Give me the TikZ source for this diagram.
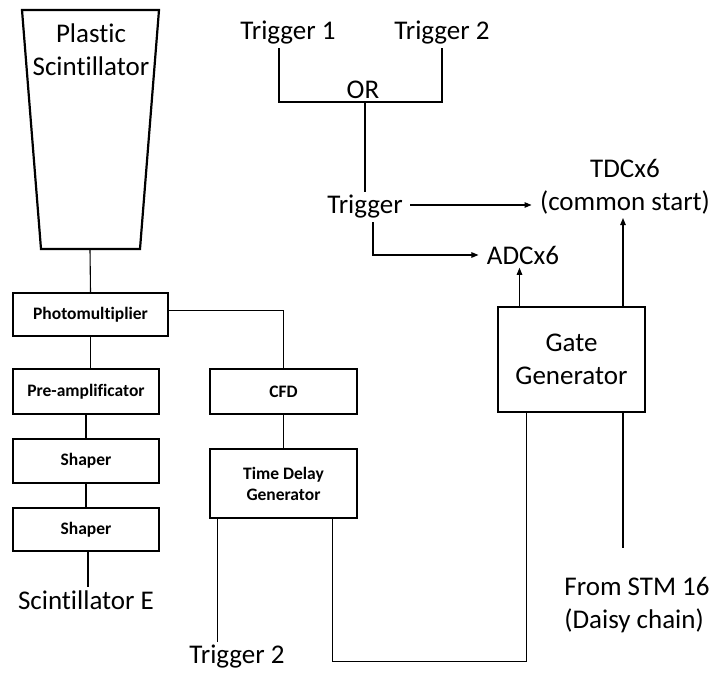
\documentclass[tikz,border=0pt]{standalone}
\usepackage{fontspec}
\setmainfont{Carlito}[Ligatures=NoCommon]
\usetikzlibrary{arrows.meta}
\begin{document}
\begin{tikzpicture}[x=1pt, y=-1pt, line width=1.1pt, >={Triangle[length=7pt,width=5.5pt]},
                    box/.style={draw, line width=2.2pt, fill=white, inner sep=2pt,
                                font=\bfseries\fontsize{17.5}{21}\selectfont, align=center},
                    lbl/.style={inner sep=3pt, font=\fontsize{27}{33}\selectfont, align=center}]
    \useasboundingbox (0,0) rectangle (716,675);
    % scintillator and its chain
    \draw[line width=2.2pt] (22,10) -- (159,10) -- (140,249) -- (41,249) -- cycle;
    \node[lbl] (plastic) at (91,50) {Plastic\\Scintillator};
    \coordinate (scint) at (90,249);
    \node[box, minimum width=155pt, minimum height=43pt] (pm) at (90.5,314.5) {Photomultiplier};
    \node[box, minimum width=146pt, minimum height=45pt] (pre) at (86,391.5) {Pre-amplificator};
    \node[box, minimum width=146pt, minimum height=44pt] (shaperA) at (86,461) {Shaper};
    \node[box, minimum width=146pt, minimum height=43pt] (shaperB) at (86,529.5) {Shaper};
    \node[lbl] (scintE) at (86,600) {Scintillator E};
    \node[box, minimum width=147pt, minimum height=45pt] (cfd) at (283.5,391.5) {CFD};
    \node[box, minimum width=147pt, minimum height=69pt] (tdg) at (283.5,483.5) {Time Delay\\Generator};
    \node[lbl] (trigB) at (237,657) {Trigger 2};
    \draw (scint) -- (pm.north);
    \draw (pm.south) -- (pm.south |- pre.north);
    \draw (pre.south) -- (shaperA.north);
    \draw (shaperA.south) -- (shaperB.north);
    \draw ([xshift=2pt]shaperB.south) -- ([xshift=2pt]shaperB.south |- scintE.north);
    \draw ([yshift=4pt]pm.east) -| (cfd.north);
    \draw (cfd.south) -- (tdg.north);
    \draw ([xshift=9pt]tdg.south west) -- ([xshift=9pt]tdg.south west |- trigB.north);
    % trigger logic
    \node[lbl] (trigA) at (288,33) {Trigger 1};
    \node[lbl] (trigC) at (442,33) {Trigger 2};
    \node[lbl, inner sep=0pt] (or) at (363,90) {OR};
    \coordinate (orj) at (365,102);
    \node[lbl] (trig) at (365,207) {Trigger};
    \node[lbl] (tdc) at (625,187) {TDCx6\\(common start)};
    \node[lbl] (adc) at (523,255) {ADCx6};
    \node[box, font=\fontsize{27}{33}\selectfont, minimum width=147pt, minimum height=105pt] (gg) at (571.5,359.5) {Gate\\Generator};
    \node[lbl, align=left] (stm) at (637,605) {From STM 16\\(Daisy chain)};
    \coordinate (stmin) at (623,548);
    \draw ([xshift=-9pt]trigA.south) |- (orj) -| (trigC.south);
    \draw (orj) -- (trig.north);
    \draw[->, shorten <=4pt, shorten >=5pt] ([yshift=2pt]trig.east) -- ([yshift=2pt]trig.east -| tdc.west);
    \draw[->, shorten >=5pt] ([xshift=8pt]trig.south) |- (adc.west);
    \draw[->] ([xshift=-52pt]gg.north) -- ([xshift=-52pt]gg.north |- adc.south);
    \draw[->] ([xshift=51.5pt]gg.north) -- ([xshift=51.5pt]gg.north |- tdc.south);
    \draw ([xshift=51.5pt]gg.south) -- (stmin);
    \draw ([xshift=-26pt]tdg.south east) -- ++(0,142) -| ([xshift=30pt]gg.south west);
\end{tikzpicture}
\end{document}
